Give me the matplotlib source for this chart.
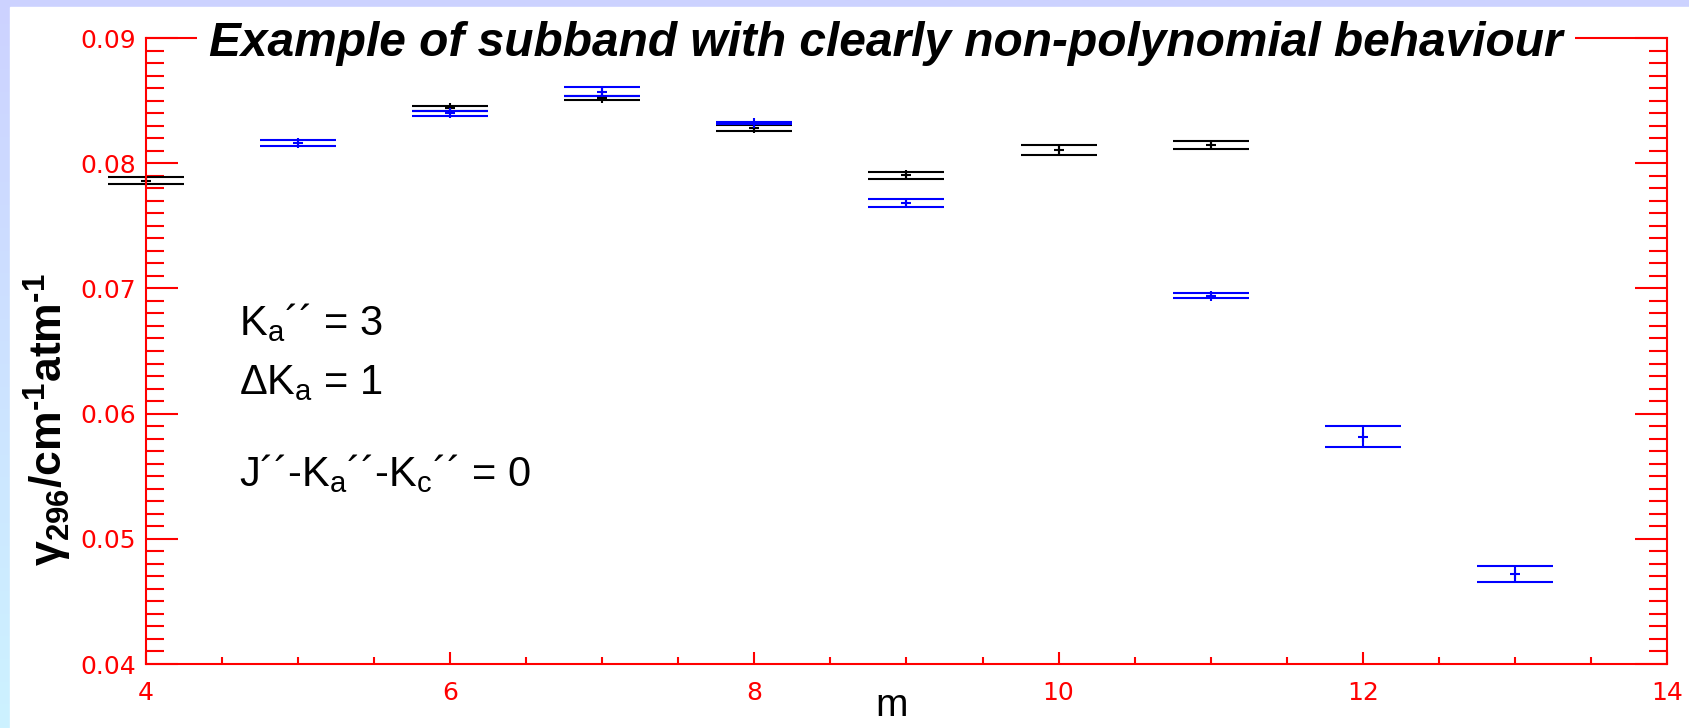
import numpy as np
import matplotlib
matplotlib.use("Agg")
import matplotlib.pyplot as plt
from matplotlib.patches import Rectangle

# data
m_black = [4, 6, 7, 8, 9, 10, 11]
g_black = [0.0786, 0.08438, 0.08523, 0.08281, 0.07903, 0.08105, 0.08147]
e_black = [0.00026, 0.00021, 0.00015, 0.00027, 0.00030, 0.00040, 0.00030]

m_blue = [5, 6, 7, 8, 9, 11, 12, 13]
g_blue = [0.0816, 0.08398, 0.08571, 0.08321, 0.07681, 0.06943, 0.05816, 0.04717]
e_blue = [0.00022, 0.00019, 0.00035, 0.00010, 0.00031, 0.00022, 0.00085, 0.00065]

x_ticks = [4, 6, 8, 10, 12, 14]
y_ticks = [0.04, 0.05, 0.06, 0.07, 0.08, 0.09]
y_ticklabels = ["0.04", "0.05", "0.06", "0.07", "0.08", "0.09"]

plt.rcParams['font.family'] = ['Liberation Sans', 'DejaVu Sans']
plt.rcParams['mathtext.fontset'] = 'custom'
plt.rcParams['mathtext.rm'] = 'Liberation Sans'
plt.rcParams['mathtext.it'] = 'Liberation Sans:italic'
plt.rcParams['mathtext.bf'] = 'Liberation Sans:bold'

W, H = 1690, 728
fig = plt.figure(figsize=(W / 100, H / 100), dpi=100)

# slide-like background: gradient strip on top and left
bg = fig.add_axes([0, 0, 1, 1], zorder=-10)
grad = np.linspace(0, 1, 256).reshape(-1, 1)
top_c = np.array([204, 210, 255]) / 255
bot_c = np.array([205, 242, 255]) / 255
img = top_c[None, None, :] * (1 - grad[:, :, None]) + bot_c[None, None, :] * grad[:, :, None]
bg.imshow(img, aspect='auto', extent=[0, 1, 0, 1])
bg.add_patch(Rectangle((10 / W, 0), 1, 1 - 7 / H, color='white'))
bg.set_xlim(0, 1)
bg.set_ylim(0, 1)
bg.axis('off')

ax = fig.add_axes([146 / W, 1 - 664 / H, (1667 - 146) / W, (664 - 38) / H])
ax.set_facecolor('none')

cap = 27.4
ax.errorbar(m_black, g_black, yerr=e_black, fmt='+', color='black', ms=7, mew=1.5,
            elinewidth=1.5, capsize=cap, capthick=1.5, clip_on=False)
ax.errorbar(m_blue, g_blue, yerr=e_blue, fmt='+', color='blue', ms=7, mew=1.5,
            elinewidth=1.5, capsize=cap, capthick=1.5, clip_on=False)

ax.set_xlim(4, 14)
ax.set_ylim(0.04, 0.09)
ax.set_xticks(x_ticks)
ax.set_xticks(np.arange(4, 14.01, 0.5), minor=True)
ax.set_yticks(y_ticks)
ax.set_yticklabels(y_ticklabels)
ax.set_yticks(np.arange(0.04, 0.0901, 0.001), minor=True)

for s in ax.spines.values():
    s.set_color('red')
    s.set_linewidth(1.5)

ax.tick_params(axis='both', which='both', direction='in', colors='red', width=1.5,
               labelcolor='red', labelsize=18)
ax.tick_params(axis='x', which='major', length=9, pad=12, top=False)
ax.tick_params(axis='x', which='minor', length=5, top=False)
ax.tick_params(axis='y', which='major', length=23, pad=7, right=True)
ax.tick_params(axis='y', which='minor', length=13, right=True)
for lab in ax.get_xticklabels() + ax.get_yticklabels():
    lab.set_fontfamily('DejaVu Sans')

# title over the top spine with white box
fig.text(886 / W, 1 - 44 / H, "Example of subband with clearly non-polynomial behaviour",
         ha='center', va='center', fontsize=34.5, fontweight='bold', fontstyle='italic',
         bbox=dict(facecolor='white', edgecolor='none', pad=9))

fig.text(48 / W, 1 - 420 / H, '$\\mathbf{\\gamma_{296}/cm^{\u20101}atm^{\u20101}}$',
         rotation=90, ha='center', va='center', fontsize=32)
fig.text(892 / W, 1 - 706 / H, 'm', ha='center', va='center', fontsize=28)

fig.text(239 / W, 1 - 323 / H, 'K$_\\mathrm{a}$\u00b4\u00b4 = 3', ha='left', va='center', fontsize=30)
fig.text(239 / W, 1 - 383 / H, '\u0394K$_\\mathrm{a}$ = 1', ha='left', va='center', fontsize=30)
fig.text(239 / W, 1 - 474 / H, 'J\u00b4\u00b4-K$_\\mathrm{a}$\u00b4\u00b4-K$_\\mathrm{c}$\u00b4\u00b4 = 0',
         ha='left', va='center', fontsize=30)

fig.savefig('out.png', dpi=100)
